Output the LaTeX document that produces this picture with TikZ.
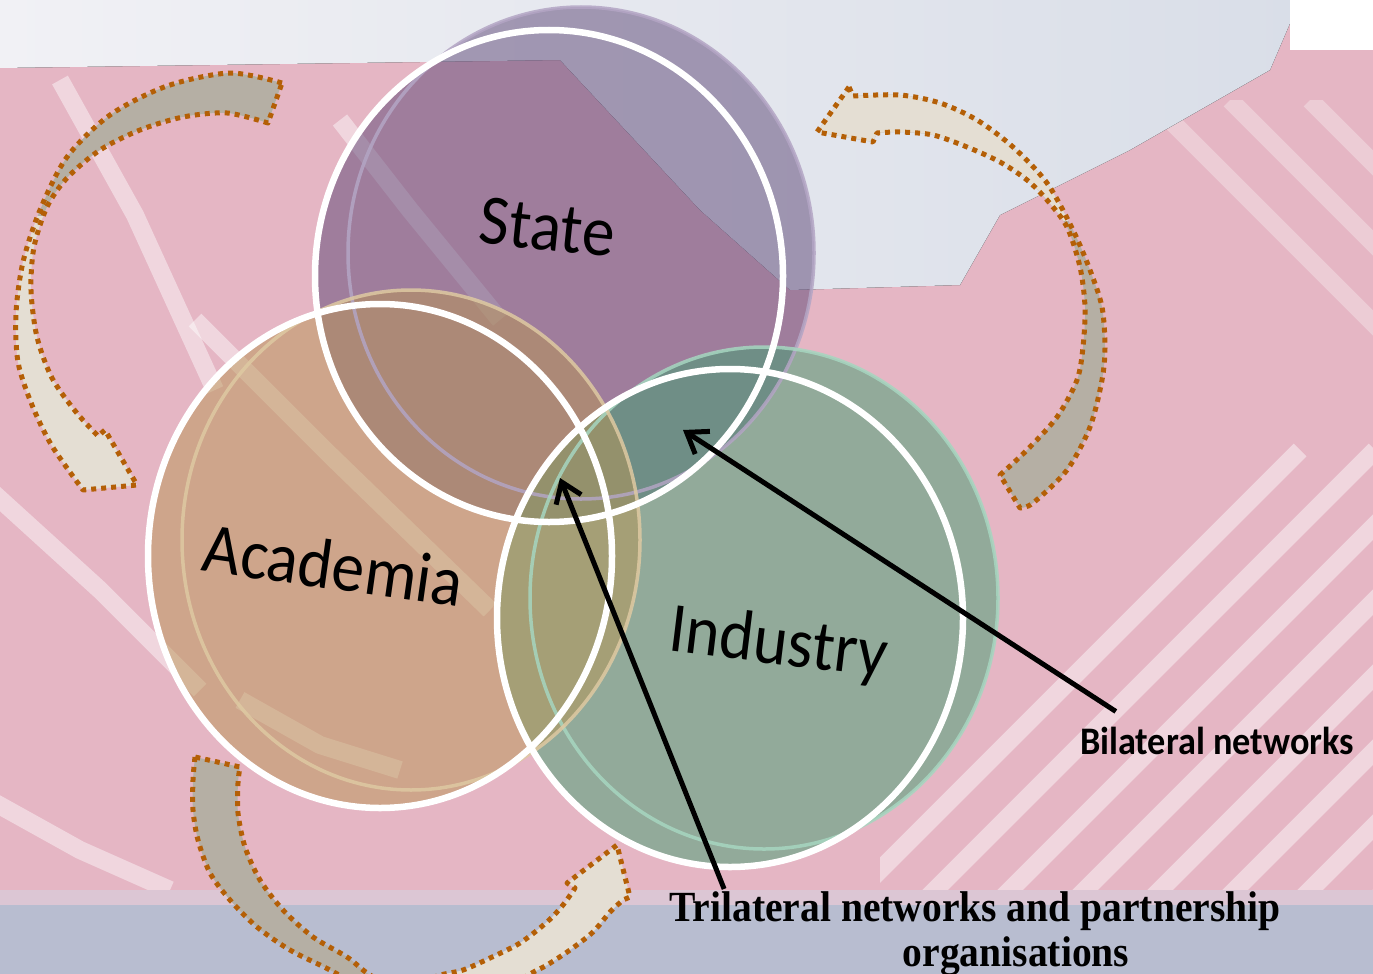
\documentclass[tikz,border=0pt]{standalone}
\usepackage{fontspec}
\setmainfont{Liberation Serif}
\newfontfamily\calibri{Carlito}
\usetikzlibrary{arrows.meta}

\definecolor{bgpink}{HTML}{E5B6C4}
\definecolor{toplight}{HTML}{F1F1F5}
\definecolor{topblue}{HTML}{D9DEE8}
\definecolor{bottomblue}{HTML}{B8BDD0}
\definecolor{bandmix}{HTML}{DCC6D4}
\definecolor{statecol}{HTML}{5B4575}
\definecolor{induscol}{HTML}{419F71}
\definecolor{acadcol}{HTML}{B99553}
\definecolor{staterim}{HTML}{B3A5C4}
\definecolor{indusrim}{HTML}{A6D6C0}
\definecolor{acadrim}{HTML}{DEC9A2}
\definecolor{ribbongray}{HTML}{B5AFA4}
\definecolor{ribboncream}{HTML}{E4DED3}
\definecolor{ribbonbrown}{HTML}{B45F06}

\tikzset{
  stripe/.style={
    % pale pixel streaks of the background
    draw=white, opacity=.45,
    line width=18pt, line join=round
  }}
\tikzset{
  ribbon/.style={
    % The border of the curved arrows:
    draw=ribbonbrown, line width=5pt,
    dash pattern=on 5pt off 5pt,
    line join=round
  }}
\tikzset{
  bubble/.style={opacity=.5},
  rim/.style={line width=3.5pt, opacity=.85},
  front/.style={draw=white, line width=6.5pt},
  venntext/.style={
    font=\calibri\fontsize{71}{74}\selectfont,
    anchor=base, inner sep=0pt},
  pointer/.style={
    line width=5pt,
    -{Straight Barb[length=19pt,width=27pt]}}
}

\begin{document}
\begin{tikzpicture}[x=1pt,y=-1pt]
	\useasboundingbox (0,0) rectangle (1373,974);
	\clip (0,0) rectangle (1373,974);
	% Background
	\fill[bgpink] (0,0) rectangle (1373,974);
	\draw[stripe] (60,80) -- (135,215) -- (215,390);
	\draw[stripe] (195,320) -- (330,455) -- (490,610);
	\draw[stripe] (340,120) -- (410,210) -- (500,320);
	\draw[stripe] (-10,490) -- (100,590) -- (200,690);
	\draw[stripe] (-10,800) -- (80,850) -- (170,890);
	\draw[stripe] (240,700) -- (320,745) -- (400,770);
	\begin{scope}
		\clip (880,100) rectangle (1373,890);
		\foreach \k in {0,...,9}
			\draw[stripe] (850+\k*75,900) -- ++(450,-450);
		\foreach \k in {0,...,4}
			\draw[stripe, opacity=.3] (1150+\k*80,100) -- ++(300,300);
	\end{scope}
	\fill[left color=toplight, right color=topblue]
		(0,0) -- (1300,0) -- (1270,70) -- (1130,150) -- (1000,215)
		-- (960,285) -- (790,290) -- (700,210) -- (560,60) -- (0,68) -- cycle;
	\fill[white] (1290,0) rectangle (1373,50);
	\fill[bandmix] (0,890) rectangle (1373,905);
	\fill[bottomblue] (0,905) rectangle (1373,974);

	% Curved arrows round the diagram
	\path[save path=\ribTL]
		plot[smooth] coordinates {(282,83) (230,73) (167,86) (110,115) (67,157)
			(40,210) (23,262) (16,313) (18,362) (32,405) (52,446) (83,490)}
		-- (137,485) -- (105,430)
		-- plot[smooth] coordinates {(98,436) (76,412) (52,378) (37,337) (31,290)
			(34,247) (47,207) (67,178) (100,150) (140,130) (183,117) (227,113) (268,123)}
		-- cycle;
	\fill[ribboncream, use path=\ribTL];
	\begin{scope}
		\clip (0,0) rectangle (300,215);
		\fill[ribbongray, use path=\ribTL];
	\end{scope}
	\draw[ribbon, use path=\ribTL];

	\path[save path=\ribTR]
		(849,87) -- (817,132) -- (873,142)
		-- plot[smooth] coordinates {(877,133) (900,132) (933,135) (967,147) (1000,162)
			(1027,180) (1047,200) (1067,227) (1080,267) (1085,307) (1083,347)
			(1077,380) (1057,417) (1027,450) (1000,475)}
		-- plot[smooth] coordinates {(1020,508) (1033,503) (1067,470) (1090,427)
			(1102,380) (1105,347) (1102,307) (1090,270) (1073,230) (1047,183)
			(1013,147) (977,120) (940,103) (900,95) (853,96)}
		-- cycle;
	\fill[ribbongray, use path=\ribTR];
	\begin{scope}
		\clip (800,0) rectangle (1120,220);
		\fill[ribboncream, use path=\ribTR];
	\end{scope}
	\draw[ribbon, use path=\ribTR];

	\path[save path=\ribBL]
		plot[smooth] coordinates {(195,757) (193,780) (193,810) (198,840) (210,873)
			(230,900) (257,927) (290,950) (330,970) (365,990)}
		-- plot[smooth] coordinates {(395,990) (367,973) (347,957) (313,937)
			(283,910) (260,880) (245,847) (238,813) (238,783) (240,767)}
		-- cycle;
	\fill[ribbongray, use path=\ribBL];
	\draw[ribbon, use path=\ribBL];

	\path[save path=\ribBR]
		plot[smooth] coordinates {(405,990) (437,976) (463,970) (490,958) (520,943)
			(547,922) (563,905) (575,888)}
		-- (567,883) -- (617,845) -- (630,897)
		-- plot[smooth] coordinates {(623,900) (610,912) (593,932) (570,950)
			(547,965) (530,974) (505,990)}
		-- cycle;
	\fill[ribboncream, use path=\ribBR];
	\draw[ribbon, use path=\ribBR];

	% The three bubbles
	\fill[statecol, bubble] (549,276) ellipse (234pt and 246pt)
		(581,253) ellipse (233pt and 246pt);
	\fill[induscol, bubble] (730,618) ellipse (233pt and 249pt)
		(764,598) ellipse (234pt and 251pt);
	\fill[acadcol, bubble] (380,556) ellipse (232pt and 252pt)
		(411,540) ellipse (229pt and 250pt);
	\draw[rim, draw=staterim] (581,253) ellipse (233pt and 246pt);
	\draw[rim, draw=indusrim] (764,598) ellipse (234pt and 251pt);
	\draw[rim, draw=acadrim] (411,540) ellipse (229pt and 250pt);
	\draw[front] (549,276) ellipse (234pt and 246pt);
	\draw[front] (730,618) ellipse (233pt and 249pt);
	\draw[front] (380,556) ellipse (232pt and 252pt);

	\node[venntext, rotate=-6] (state) at (545,250) {\addfontfeature{FakeStretch=.92}State};
	\node[venntext, rotate=-8] (academia) at (330,589) {\addfontfeature{FakeStretch=.92}Academia};
	\node[venntext, rotate=-7] (industry) at (776,664) {\addfontfeature{FakeStretch=.92}Industry};

	% Labels and pointers
	\node[anchor=base, inner sep=2pt,
		font=\calibri\bfseries\fontsize{39}{42}\selectfont] (bilat) at (1217,754)
		{\addfontfeature{FakeStretch=.93}Bilateral networks};
	\node[anchor=base, inner sep=2pt,
		font=\bfseries\fontsize{43}{46}\selectfont] (trilat) at (975,921)
		{\addfontfeature{FakeStretch=.92}Trilateral networks and partnership};
	\node[anchor=base, inner sep=2pt,
		font=\bfseries\fontsize{43}{46}\selectfont] (trilatb) at (1016,966)
		{\addfontfeature{FakeStretch=.92}organisations};
	\coordinate (bitip) at (683,430);
	\coordinate (tritip) at (560,478);
	\draw[pointer] ([xshift=38pt,yshift=13pt]bilat.north west) -- (bitip);
	\draw[pointer] ([xshift=57pt]trilat.north west) -- (tritip);
\end{tikzpicture}
\end{document}
